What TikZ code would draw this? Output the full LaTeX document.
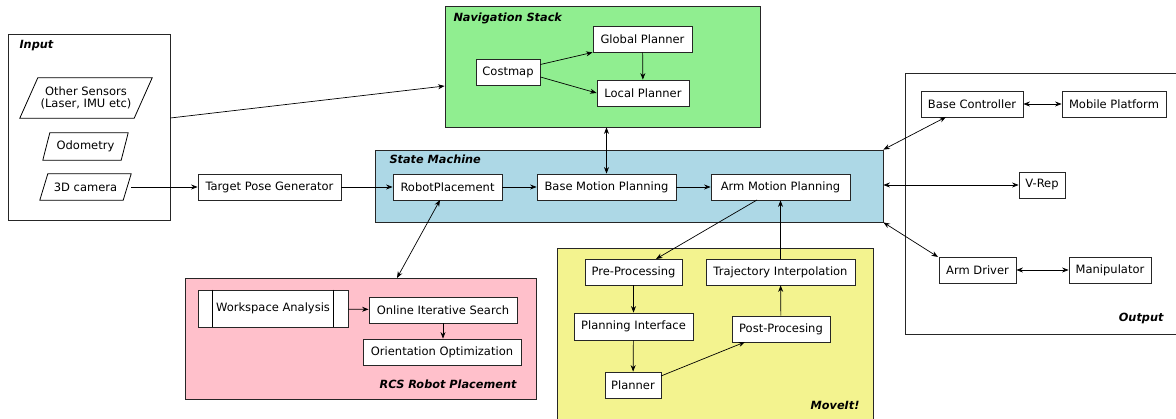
\documentclass[tikz,border=0pt]{standalone}
\usepackage{fontspec}
\setmainfont{DejaVu Sans}
\usetikzlibrary{arrows.meta,calc}
\definecolor{navgreen}{HTML}{90EE90}
\definecolor{smblue}{HTML}{ADD8E6}
\definecolor{rcspink}{HTML}{FFC0CB}
\definecolor{mvyellow}{HTML}{F3F38F}
\begin{document}
\begin{tikzpicture}[x=1pt,y=-1pt,
  font=\fontsize{11.5}{13}\selectfont,
  group/.style={draw=black!85, line width=0.8pt, inner sep=0pt},
  blk/.style={draw=black!85, fill=white, line width=0.8pt, minimum height=26pt, inner sep=2pt},
  para/.style={minimum height=26pt, inner sep=2pt},
  ttl/.style={font=\fontsize{11.3}{13}\selectfont\bfseries\itshape},
  arr/.style={-{Stealth[length=6.5pt,width=5pt]}, line width=0.7pt},
  darr/.style={{Stealth[length=6.5pt,width=5pt]}-{Stealth[length=6.5pt,width=5pt]}, line width=0.7pt}]
\useasboundingbox (0,0) rectangle (1176,419);
% group boxes
\node[group, minimum width=162pt, minimum height=186pt] (input) at (89,127) {};
\node[ttl, anchor=west] at (16,46) {Input};
\node[group, fill=navgreen, minimum width=315pt, minimum height=121pt] (nav) at (602.5,66.5) {};
\node[ttl, anchor=west] at (450,18) {Navigation Stack};
\node[group, fill=smblue, minimum width=508pt, minimum height=72pt] (sm) at (629,186) {};
\node[ttl, anchor=west] at (386,159) {State Machine};
\node[group, fill=rcspink, minimum width=351pt, minimum height=121pt] (rcs) at (360.5,338.5) {};
\node[ttl, anchor=east] at (520,384) {RCS Robot Placement};
\node[group, fill=mvyellow, minimum width=316pt, minimum height=180pt] (mv) at (715,338) {};
\node[ttl, anchor=east] at (863,405) {MoveIt!};
\node[group, minimum width=280pt, minimum height=261pt] (out) at (1045,203.5) {};
\node[ttl, anchor=east] at (1167,318) {Output};
% input parallelograms
\node[para, minimum width=114pt, minimum height=40pt, align=center] (sens) at (86,98) {Other Sensors\\[-1pt](Laser, IMU etc)};
\draw[line width=0.8pt] ($(sens.south west)+(-9,0)$) -- ($(sens.north west)+(9,0)$) -- ($(sens.north east)+(9,0)$) -- ($(sens.south east)+(-9,0)$) -- cycle;
\node[para, minimum width=78pt, minimum height=27pt] (odo) at (85.5,146.5) {Odometry};
\draw[line width=0.8pt] ($(odo.south west)+(-3.5,0)$) -- ($(odo.north west)+(3.5,0)$) -- ($(odo.north east)+(3.5,0)$) -- ($(odo.south east)+(-3.5,0)$) -- cycle;
\node[para, minimum width=83pt] (cam) at (85.5,187) {3D camera};
\draw[line width=0.8pt] ($(cam.south west)+(-4,0)$) -- ($(cam.north west)+(4,0)$) -- ($(cam.north east)+(4,0)$) -- ($(cam.south east)+(-4,0)$) -- cycle;
% blocks
\node[blk, minimum width=143pt] (tpg) at (269.5,187) {Target Pose Generator};
\node[blk, minimum width=64pt] (cost) at (508,72) {Costmap};
\node[blk, minimum width=99pt] (gp) at (642.5,39) {Global Planner};
\node[blk, minimum width=92pt] (lp) at (643,93) {Local Planner};
\node[blk, minimum width=109pt] (rp) at (447.5,187) {RobotPlacement};
\node[blk, minimum width=139pt] (bmp) at (606.5,187) {Base Motion Planning};
\node[blk, minimum width=139pt] (amp) at (780.5,187) {Arm Motion Planning};
\node[blk, minimum width=150pt, minimum height=37pt] (wa) at (273,308.5) {Workspace Analysis};
\draw[line width=0.8pt] ($(wa.north west)+(15,0)$) -- ($(wa.south west)+(15,0)$);
\draw[line width=0.8pt] ($(wa.north east)+(-15,0)$) -- ($(wa.south east)+(-15,0)$);
\node[blk, minimum width=148pt] (ois) at (443,310) {Online Iterative Search};
\node[blk, minimum width=158pt] (oo) at (442,352) {Orientation Optimization};
\node[blk, minimum width=97pt] (pre) at (633.5,272) {Pre-Processing};
\node[blk, minimum width=149pt] (ti) at (780.5,272) {Trajectory Interpolation};
\node[blk, minimum width=119pt, minimum height=27pt] (pi) at (633.5,326.5) {Planning Interface};
\node[blk, minimum width=98pt] (post) at (781,329) {Post-Procesing};
\node[blk, minimum width=56pt] (pl) at (633,385) {Planner};
\node[blk, minimum width=102pt] (bc) at (972,104) {Base Controller};
\node[blk, minimum width=104pt] (mp) at (1114,104) {Mobile Platform};
\node[blk, minimum width=46pt] (vrep) at (1042,185) {V-Rep};
\node[blk, minimum width=77pt] (ad) at (977.5,270) {Arm Driver};
\node[blk, minimum width=82pt] (man) at (1110,270) {Manipulator};
% connectors
\coordinate (inE) at (input.east |- 0,118);
\coordinate (navW) at (nav.west |- 0,86);
\draw[arr] (inE) -- (navW);
\draw[arr] ($(cam.east)+(4,0)$) -- (tpg);
\draw[arr] (tpg) -- (rp);
\draw[arr] (rp) -- (bmp);
\draw[arr] (bmp) -- (amp);
\draw[arr] (cost) -- (gp.south west);
\draw[arr] (cost.east) ++(0,5) -- (lp.west);
\draw[arr] (gp) -- (lp);
\draw[darr] (nav.south -| bmp.north) -- (bmp.north);
\coordinate (rpS) at (440,200);
\coordinate (rcsN) at (397,278);
\draw[darr] (rpS) -- (rcsN);
\coordinate (ampS) at (757,200);
\coordinate (preN) at (656,259);
\draw[arr] (ampS) -- (preN);
\draw[arr] (ti.north) -- (ti.north |- amp.south);
\draw[arr] (pre) -- (pi);
\draw[arr] (pi) -- (pl);
\coordinate (plE) at (661,376);
\coordinate (postS) at (745,342);
\draw[arr] (plE) -- (postS);
\draw[arr] (post) -- (ti);
\draw[arr] (wa) -- (ois);
\draw[arr] (ois) -- (ois.south |- oo.north);
\coordinate (bcS) at (946,117);
\draw[darr] (sm.north east) -- (bcS);
\draw[darr] (sm.east |- vrep.west) -- (vrep.west);
\coordinate (adN) at (938,257);
\draw[darr] (sm.south east) -- (adN);
\draw[darr] (bc) -- (mp);
\draw[darr] (ad) -- (man);
\end{tikzpicture}
\end{document}
